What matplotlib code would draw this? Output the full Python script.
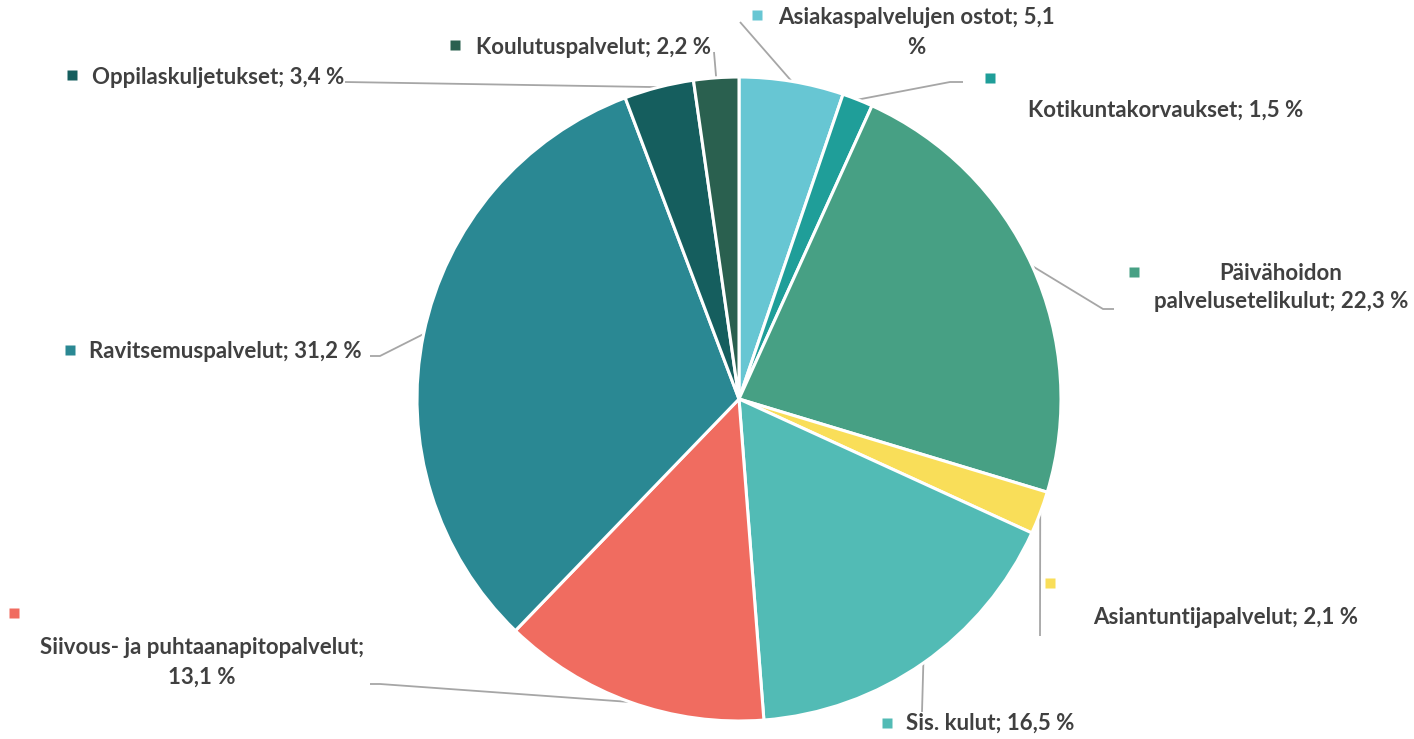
import numpy as np
import matplotlib.pyplot as plt

plt.rcParams['font.family'] = ['Lato', 'DejaVu Sans']

# data (clockwise from top)
names = ['Asiakaspalvelujen ostot', 'Kotikuntakorvaukset', 'Päivähoidon palvelusetelikulut',
         'Asiantuntijapalvelut', 'Sis. kulut', 'Siivous- ja puhtaanapitopalvelut',
         'Ravitsemuspalvelut', 'Oppilaskuljetukset', 'Koulutuspalvelut']
values = [5.1, 1.5, 22.3, 2.1, 16.5, 13.1, 31.2, 3.4, 2.2]
colors = ['#67C6D3', '#1F9E99', '#47A084', '#F9DE59', '#52BBB5', '#F06C60',
          '#2A8893', '#155E5E', '#2A604F']

W, H = 1414, 739
fig = plt.figure(figsize=(W / 100, H / 100), dpi=100)
ax = fig.add_axes([0, 0, 1, 1])

cx, cy, R = 739, H - 399, 322
wedges, _ = ax.pie(values, colors=colors, startangle=90, counterclock=False,
                   center=(cx, cy), radius=R,
                   wedgeprops=dict(edgecolor='white', linewidth=2.2))
ax.set_xlim(0, W)
ax.set_ylim(0, H)
ax.set_aspect('equal')
ax.axis('off')

def P(x, y):
    return x, H - y

# label layout in pixel coords (y from top): text lines, text centre, square, leader path
layout = [
    (['Asiakaspalvelujen ostot; 5,1', '%'], (916, 18), (757, 15), [(740, 22)]),
    (['Kotikuntakorvaukset; 1,5 %'], (1166, 110), (990, 78), [(950, 82), (963, 82)]),
    (['Päivähoidon', 'palvelusetelikulut; 22,3 %'], (1281, 273), (1134, 272), [(1103, 309), (1114, 309)]),
    (['Asiantuntijapalvelut; 2,1 %'], (1226, 618), (1050, 583), [(1040, 636)]),
    (['Sis. kulut; 16,5 %'], (990, 723), (887, 723), [(922, 712)]),
    (['Siivous- ja puhtaanapitopalvelut;', '13,1 %'], (202, 648), (14, 613), [(380, 684), (370, 684)]),
    (['Ravitsemuspalvelut; 31,2 %'], (225, 352), (70, 350), [(380, 356), (370, 356)]),
    (['Oppilaskuljetukset; 3,4 %'], (218, 77), (72, 75), [(345, 82)]),
    (['Koulutuspalvelut; 2,2 %'], (593, 47), (455, 45), [(714, 52)]),
]

for w, col, (lines, tpos, spos, path) in zip(wedges, colors, layout):
    mid = np.deg2rad((w.theta1 + w.theta2) / 2)
    sx, sy = cx + R * np.cos(mid), cy + R * np.sin(mid)
    xs = [sx] + [p[0] for p in path]
    ys = [sy] + [H - p[1] for p in path]
    ax.plot(xs, ys, color='#A6A6A6', lw=1.3, solid_capstyle='butt', zorder=0)
    ax.plot(*P(*spos), marker='s', ms=6.5, color=col, mec='none')
    for i, ln in enumerate(lines):
        ax.text(*P(tpos[0], tpos[1] + i * 29), ln, ha='center', va='center',
                fontsize=16, fontweight='bold', color='#404040')

fig.savefig('out.png', dpi=100)
